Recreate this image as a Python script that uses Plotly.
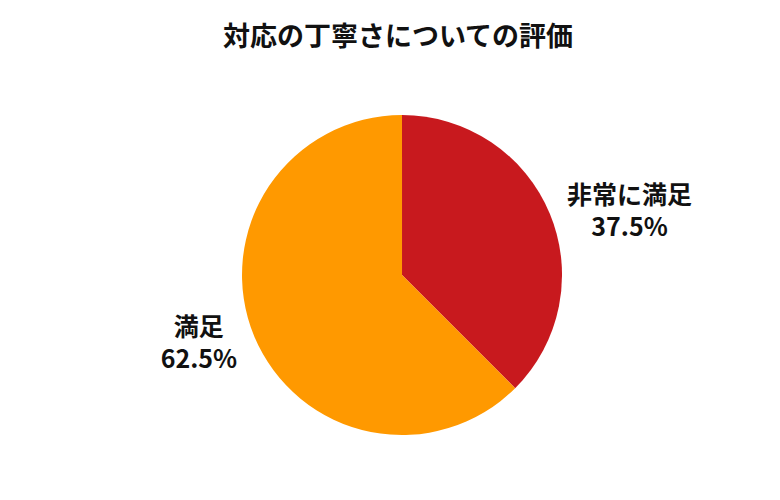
import plotly.graph_objects as go

labels = ["非常に満足", "満足"]
values = [37.5, 62.5]
colors = ["#C8191E", "#FF9900"]
title = "対応の丁寧さについての評価"

FONT = "Noto Sans CJK JP"

fig = go.Figure(go.Pie(
    labels=labels,
    values=values,
    marker=dict(colors=colors, line=dict(width=0)),
    sort=False,
    direction="clockwise",
    rotation=0,
    textinfo="label+percent",
    texttemplate="<b>%{label}<br>%{percent:.1%}</b>",
    textposition="outside",
    textfont=dict(family=FONT, size=25, color="#111111"),
    showlegend=False,
    hoverinfo="label+percent",
    automargin=False,
    domain=dict(x=[0.0103, 1.0], y=[0, 1]),
))

fig.update_layout(
    width=780, height=500,
    title=dict(text="<b>" + title + "</b>", x=0.5, xanchor="center", y=0.942, yref="container",
               yanchor="middle", automargin=False,
               font=dict(family=FONT, size=27, color="#111111")),
    margin=dict(l=0, r=0, t=107, b=73, autoexpand=False),
    paper_bgcolor="white",
    plot_bgcolor="white",
)

fig.write_html("out.html")
